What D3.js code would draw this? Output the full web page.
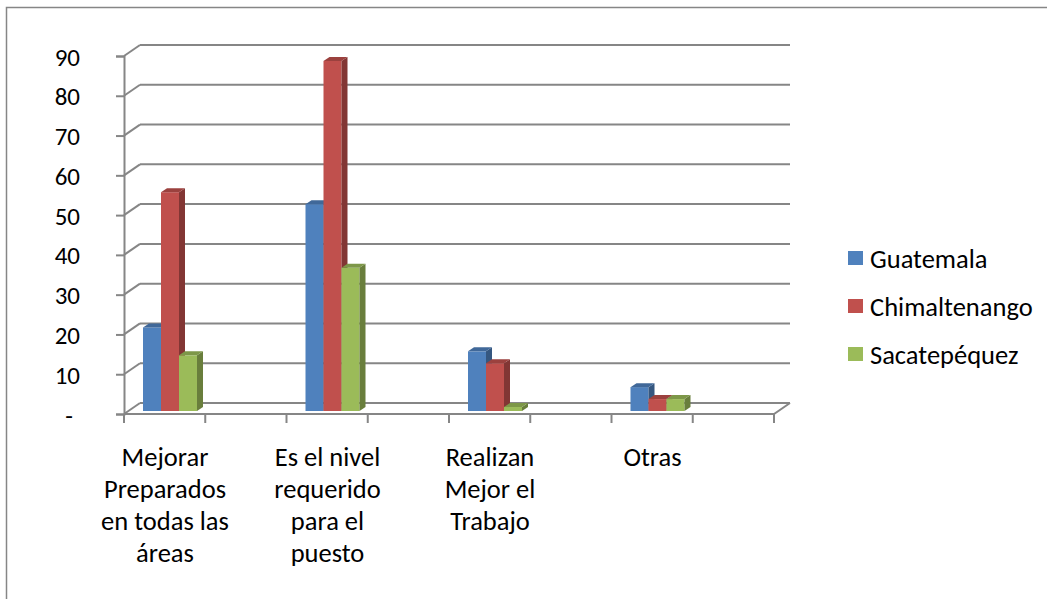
<!DOCTYPE html>
<meta charset="utf-8">
<style>
body { margin: 0; background: #fff; }
text { font-family: Carlito, Calibri, Lato, sans-serif; fill: #000; }
.grid line, .grid path { stroke: #868686; stroke-width: 2; fill: none; }
</style>
<body>
<script src="https://cdn.jsdelivr.net/npm/d3@7"></script>
<script>
// data
var categories = ["Mejorar Preparados en todas las áreas", "Es el nivel requerido para el puesto", "Realizan Mejor el Trabajo", "Otras"];
var categoryLines = [["Mejorar", "Preparados", "en todas las", "áreas"], ["Es el nivel", "requerido", "para el", "puesto"], ["Realizan", "Mejor el", "Trabajo"], ["Otras"]];
var series = ["Guatemala", "Chimaltenango", "Sacatepéquez"];
var guatemala = [21, 52, 15, 6];
var chimaltenango = [55, 88, 12, 3];
var sacatepequez = [14, 36, 1, 3];
var yTicks = [0, 10, 20, 30, 40, 50, 60, 70, 80, 90];
var colors = ["#4F81BD", "#C0504D", "#9BBB59"];

var W = 1047, H = 599;
var dx = 16, dy = -11;   // depth of the 3d walls
var bdx = 6, bdy = -4;   // depth of each bar

var svg = d3.select("body").append("svg")
    .attr("width", W)
    .attr("height", H);

// chart border (only left / top show)
svg.append("rect")
    .attr("x", 6.5).attr("y", 7.5)
    .attr("width", 1200).attr("height", 800)
    .attr("fill", "none").attr("stroke", "#868686").attr("stroke-width", 1.5);

var x = d3.scaleBand().domain(categories).range([124, 774]);
var xs = d3.scaleBand().domain(series).range([19, 19 + 54]);
var yF = d3.scaleLinear().domain([0, 90]).range([414, 56]);   // front plane
var yB = d3.scaleLinear().domain([0, 90]).range([411, 53]);   // bar plane

var grid = svg.append("g").attr("class", "grid");

// back wall gridlines + left wall diagonals
yTicks.forEach(function(v) {
  grid.append("line")
      .attr("x1", 124 + dx).attr("x2", 774 + dx)
      .attr("y1", yF(v) + dy).attr("y2", yF(v) + dy);
  grid.append("line")
      .attr("x1", 124).attr("x2", 124 + dx)
      .attr("y1", yF(v)).attr("y2", yF(v) + dy);
});

// floor front edge + right diagonal
grid.append("path")
    .attr("d", "M124," + yF(0) + "H774l" + dx + "," + dy);

// y axis (front)
var yAxis = svg.append("g")
    .attr("class", "grid")
    .attr("transform", "translate(124,0)")
    .call(d3.axisLeft(yF).tickValues(yTicks).tickSize(8).tickPadding(36)
      .tickFormat(function(d) { return d === 0 ? "-" : d; }));
yAxis.selectAll("text")
    .style("font-size", "25px")
    .attr("dy", "0.36em")
    .attr("dx", function(d) { return d === 0 ? -7 : 0; });

// x axis tick marks
var xTickPos = [];
categories.forEach(function(c) { xTickPos.push(x(c), x(c) + x.bandwidth() / 2); });
xTickPos.push(774);
grid.selectAll(".xt")
    .data(xTickPos)
  .enter().append("line")
    .attr("x1", function(d) { return d; }).attr("x2", function(d) { return d; })
    .attr("y1", yF(0)).attr("y2", yF(0) + 9);

// bars
var values = [guatemala, chimaltenango, sacatepequez];
var bw = xs.bandwidth();
categories.forEach(function(c, ci) {
  series.forEach(function(s, si) {
    var v = values[si][ci];
    var x0 = x(c) + xs(s), x1 = x0 + bw;
    var yt = yB(v), yb = yB(0);
    var col = d3.color(colors[si]);
    var g = svg.append("g");
    g.append("rect")
        .attr("x", x0).attr("y", yt)
        .attr("width", bw).attr("height", yb - yt)
        .attr("fill", colors[si]);
    g.append("path")
        .attr("d", "M" + x1 + "," + yt + "l" + bdx + "," + bdy + "V" + (yb + bdy) + "L" + x1 + "," + yb + "Z")
        .attr("fill", col.darker(1.1));
    g.append("path")
        .attr("d", "M" + x0 + "," + yt + "l" + bdx + "," + bdy + "H" + (x1 + bdx) + "L" + x1 + "," + yt + "Z")
        .attr("fill", col.darker(0.6));
  });
});

// category labels
categories.forEach(function(c, ci) {
  var t = svg.append("text")
      .attr("x", x(c) + 41)
      .attr("y", 466)
      .attr("text-anchor", "middle")
      .style("font-size", "26.5px");
  categoryLines[ci].forEach(function(line, li) {
    t.append("tspan")
        .attr("x", x(c) + 41)
        .attr("y", 466 + li * 32)
        .text(line);
  });
});

// legend
var legend = svg.selectAll(".legend")
    .data(series)
  .enter().append("g")
    .attr("transform", function(d, i) { return "translate(848," + (258 + i * 48) + ")"; });
legend.append("rect")
    .attr("x", 0).attr("y", -7)
    .attr("width", 15).attr("height", 14)
    .attr("fill", function(d, i) { return colors[i]; });
legend.append("text")
    .attr("x", 22)
    .attr("dy", "0.36em")
    .style("font-size", "26.5px")
    .text(function(d) { return d; });
</script>
</body>
